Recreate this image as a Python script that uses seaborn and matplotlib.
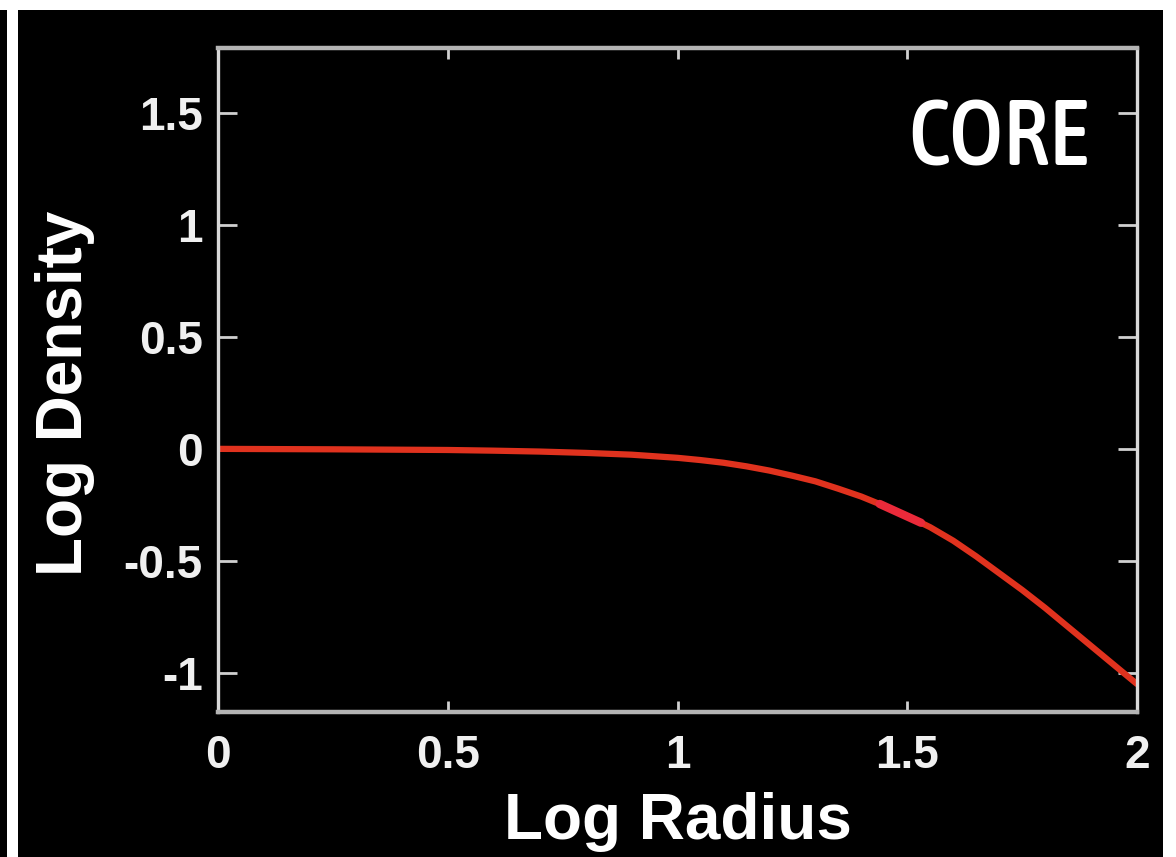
import matplotlib
matplotlib.use("Agg")
import matplotlib.pyplot as plt
from matplotlib.patches import Rectangle
from matplotlib import font_manager as fm
import seaborn as sns
import pandas as pd

# ---- data ----
log_radius = [0.0, 0.25, 0.5, 0.6, 0.7, 0.8, 0.9, 1.0, 1.05, 1.1, 1.15, 1.2, 1.25, 1.3, 1.35,
              1.4, 1.45, 1.5, 1.55, 1.6, 1.65, 1.7, 1.75, 1.8, 1.85, 1.9, 1.95, 2.0]
log_density = [0.0, -0.002, -0.005, -0.008, -0.012, -0.018, -0.026, -0.04, -0.05, -0.062,
               -0.078, -0.097, -0.12, -0.145, -0.178, -0.213, -0.255, -0.30, -0.35, -0.41,
               -0.48, -0.555, -0.63, -0.71, -0.795, -0.88, -0.965, -1.05]
highlight_x = [1.44, 1.53]
highlight_y = [-0.246, -0.33]

x_ticks = [0, 0.5, 1, 1.5, 2]
x_tick_labels = ["0", "0.5", "1", "1.5", "2"]
y_ticks = [-1, -0.5, 0, 0.5, 1, 1.5]
y_tick_labels = ["-1", "-0.5", "0", "0.5", "1", "1.5"]

x_label = "Log Radius"
y_label = "Log Density"
tag = "CORE"

df = pd.DataFrame({"x": log_radius, "y": log_density})
dh = pd.DataFrame({"x": highlight_x, "y": highlight_y})

sns.set_theme(style="ticks")
plt.rcParams["font.family"] = ["Liberation Sans", "DejaVu Sans"]

# find a condensed face for the "CORE" tag, if one is installed
def _stretch_val(s):
    table = {"ultra-condensed": 100, "extra-condensed": 200, "condensed": 300,
             "semi-condensed": 400, "normal": 500}
    if isinstance(s, (int, float)):
        return s
    return table.get(str(s), 500)

def _weight_val(w):
    table = {"ultralight": 100, "light": 300, "normal": 400, "regular": 400, "book": 400,
             "medium": 500, "roman": 400, "semibold": 600, "demibold": 600, "demi": 600,
             "bold": 700, "heavy": 800, "extra bold": 800, "black": 900}
    if isinstance(w, (int, float)):
        return w
    return table.get(str(w), 400)

cands = []
for f in fm.fontManager.ttflist:
    sv = _stretch_val(f.stretch)
    narrow_name = ("Narrow" in f.name) or ("Condensed" in f.name) or ("Cond" in f.name)
    if (sv < 500 or narrow_name) and f.style == "normal":
        cands.append((sv if sv < 500 else 300, abs(_weight_val(f.weight) - 520), f.fname))
cands.sort()
if cands:
    tag_props = dict(fontproperties=fm.FontProperties(fname=cands[0][2], size=66))
else:
    tag_props = dict(fontsize=54, fontweight="bold", family=["Roboto", "DejaVu Sans"])

W, H = 1176, 857
fig = plt.figure(figsize=(W / 100, H / 100), dpi=100, facecolor="black")

# white frame pieces of the screenshot
fig.patches.append(Rectangle((0, 1 - 10 / H), 1, 10 / H, transform=fig.transFigure,
                             facecolor="white", edgecolor="none", zorder=0))
fig.patches.append(Rectangle((1163 / W, 0), 1 - 1163 / W, 1, transform=fig.transFigure,
                             facecolor="white", edgecolor="none", zorder=0))
fig.patches.append(Rectangle((7 / W, 0), 11 / W, 1 - 10 / H, transform=fig.transFigure,
                             facecolor="white", edgecolor="none", zorder=0))

ax = fig.add_axes([218 / W, (H - 712) / H, (1137 - 218) / W, (712 - 48) / H])
ax.set_facecolor("black")

sns.lineplot(data=df, x="x", y="y", ax=ax, color="#e0321e", linewidth=4.5, legend=False)
sns.lineplot(data=dh, x="x", y="y", ax=ax, color="#ea2a3a", linewidth=6, legend=False)

ax.set_xlim(0, 2)
ax.set_ylim(-1.175, 1.79)
ax.set_xticks(x_ticks)
ax.set_xticklabels(x_tick_labels)
ax.set_yticks(y_ticks)
ax.set_yticklabels(y_tick_labels)

for name, s in ax.spines.items():
    s.set_visible(True)
    if name in ("top", "bottom"):
        s.set_color("#b4b4b4")
        s.set_linewidth(3.2)
    else:
        s.set_color("#d8d8d8")
        s.set_linewidth(2.4)

ax.tick_params(axis="both", direction="in", top=True, right=True, width=2,
               color="#d0d0d0", labelcolor="white", labelsize=33)
ax.tick_params(axis="x", pad=16, length=8)
ax.tick_params(axis="y", pad=11, length=14)
for lab in ax.get_xticklabels() + ax.get_yticklabels():
    lab.set_fontweight("bold")
    lab.set_color("#f0f0f0")

ax.set_xlabel(x_label, fontsize=46, fontweight="bold", color="white", labelpad=10)
ax.set_ylabel(y_label, fontsize=46, fontweight="bold", color="white")
ax.yaxis.set_label_coords(-0.134, 0.48)

fig.text(1088 / W, (H - 165) / H, tag, ha="right", va="baseline", color="white", **tag_props)

fig.savefig("out.png", dpi=100, facecolor="black")
